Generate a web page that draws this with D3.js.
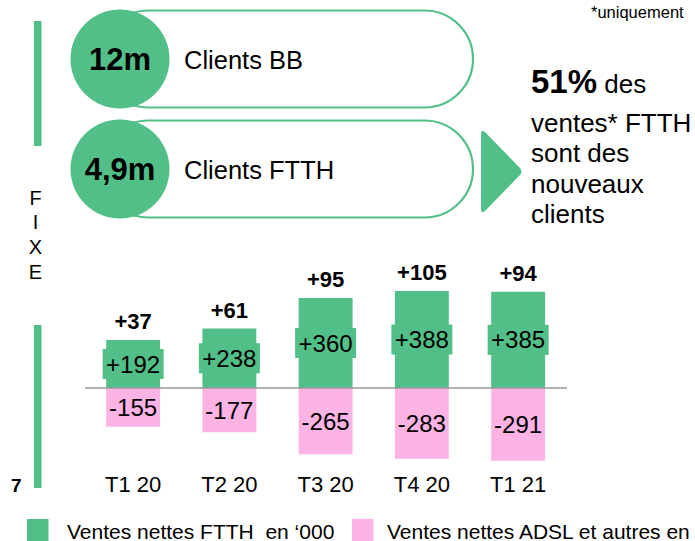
<!DOCTYPE html>
<html>
<head>
<meta charset="utf-8">
<script src="https://cdn.jsdelivr.net/npm/d3@7"></script>
<style>
  body { margin: 0; background: #fff; }
  svg { display: block; font-family: "Liberation Sans", Arial, Helvetica, sans-serif; }
  .legend text { white-space: pre; }
</style>
</head>
<body>
<svg id="chart"></svg>
<script>
const green = "#52BF88"
const pink = "#FDB3E3"

const categories = ["T1 20", "T2 20", "T3 20", "T4 20", "T1 21"]
const ftthSales = [192, 238, 360, 388, 385]
const adslSales = [-155, -177, -265, -283, -291]
const netSales = [37, 61, 95, 105, 94]

const kpiValues = ["12m", "4,9m"]
const kpiLabels = ["Clients BB", "Clients FTTH"]
const sideLetters = ["F", "I", "X", "E"]
const calloutLines = ["ventes* FTTH", "sont des", "nouveaux", "clients"]
const legendLabels = ["Ventes nettes FTTH  en \u2018000", "Ventes nettes ADSL et autres en"]

const width = 695
const height = 541

const svg = d3.select("#chart").attr("width", width).attr("height", height)

// top KPI pills
const pill = svg.selectAll(".kpi").data(kpiValues).enter().append("g")
  .attr("transform", (d, i) => "translate(0," + (i * 110) + ")")

pill.append("rect")
  .attr("x", 100).attr("y", 10.5)
  .attr("width", 373).attr("height", 97)
  .attr("rx", 48.5)
  .attr("fill", "#fff")
  .attr("stroke", green)
  .attr("stroke-width", 2.2)

pill.append("circle")
  .attr("cx", 120).attr("cy", 59)
  .attr("r", 49.5)
  .attr("fill", green)

pill.append("text")
  .attr("x", 120).attr("y", 70)
  .attr("text-anchor", "middle")
  .attr("font-size", 31).attr("font-weight", "bold")
  .attr("fill", "#000")
  .text(d => d)

pill.append("text")
  .attr("x", 184).attr("y", 68.5)
  .attr("font-size", 25.5)
  .attr("fill", "#000")
  .text((d, i) => kpiLabels[i])

// arrow
svg.append("path")
  .attr("d", "M481,134 Q481,129 485,132 L520,168 Q523,171.5 520,175 L485,211 Q481,214 481,209 Z")
  .attr("fill", green)

// callout text
const callout = svg.append("text").attr("x", 531).attr("y", 93).attr("fill", "#000")
callout.append("tspan").attr("font-size", 33).attr("font-weight", "bold").text("51%")
callout.append("tspan").attr("font-size", 26).text(" des")

svg.selectAll(".callout").data(calloutLines).enter().append("text")
  .attr("x", 531)
  .attr("y", (d, i) => 132 + i * 30.3)
  .attr("font-size", 26)
  .attr("fill", "#000")
  .text(d => d)

svg.append("text")
  .attr("x", 591).attr("y", 18)
  .attr("font-size", 16.5)
  .attr("fill", "#000")
  .text("*uniquement")

// left side rule and letters
svg.append("rect").attr("x", 34).attr("y", 21).attr("width", 7.5).attr("height", 125).attr("fill", green)
svg.append("rect").attr("x", 34).attr("y", 325).attr("width", 7.5).attr("height", 163).attr("fill", green)

svg.selectAll(".side").data(sideLetters).enter().append("text")
  .attr("x", 35.5)
  .attr("y", (d, i) => 204.5 + i * 24.7)
  .attr("text-anchor", "middle")
  .attr("font-size", 20)
  .attr("fill", "#000")
  .text(d => d)

svg.append("text")
  .attr("x", 11).attr("y", 492)
  .attr("font-size", 19).attr("font-weight", "bold")
  .attr("fill", "#000")
  .text("7")

// bar chart
const xScale = d3.scaleBand()
  .domain(categories)
  .range([85, 566.25])
  .paddingInner(0.44)
  .paddingOuter(0.22)

const yScale = d3.scaleLinear()
  .domain([-300, 400])
  .range([463, 288])

const bw = xScale.bandwidth()

svg.selectAll(".ftth").data(ftthSales).enter().append("rect")
  .attr("x", (d, i) => xScale(categories[i]))
  .attr("y", d => yScale(d))
  .attr("width", bw)
  .attr("height", d => yScale(0) - yScale(d))
  .attr("fill", green)

svg.selectAll(".adsl").data(adslSales).enter().append("rect")
  .attr("x", (d, i) => xScale(categories[i]))
  .attr("y", yScale(0))
  .attr("width", bw)
  .attr("height", d => yScale(d) - yScale(0))
  .attr("fill", pink)

svg.append("line")
  .attr("x1", 85).attr("x2", 567)
  .attr("y1", yScale(0)).attr("y2", yScale(0))
  .attr("stroke", "#999")
  .attr("stroke-width", 1.5)

// green value labels with their own box
const ftthLabels = svg.selectAll(".ftthLabel").data(ftthSales).enter().append("g")
ftthLabels.append("rect")
  .attr("x", (d, i) => xScale(categories[i]) + bw / 2 - 30.5)
  .attr("y", d => (yScale(d) + yScale(0)) / 2 - 15)
  .attr("width", 61).attr("height", 30)
  .attr("fill", green)
ftthLabels.append("text")
  .attr("x", (d, i) => xScale(categories[i]) + bw / 2)
  .attr("y", d => (yScale(d) + yScale(0)) / 2 + 8.5)
  .attr("text-anchor", "middle")
  .attr("font-size", 24)
  .attr("fill", "#000")
  .text(d => "+" + d)

svg.selectAll(".adslLabel").data(adslSales).enter().append("text")
  .attr("x", (d, i) => xScale(categories[i]) + bw / 2)
  .attr("y", d => (yScale(d) + yScale(0)) / 2 + 9)
  .attr("text-anchor", "middle")
  .attr("font-size", 24)
  .attr("fill", "#000")
  .text(d => d)

svg.selectAll(".netLabel").data(netSales).enter().append("text")
  .attr("x", (d, i) => xScale(categories[i]) + bw / 2)
  .attr("y", (d, i) => yScale(ftthSales[i]) - 11)
  .attr("text-anchor", "middle")
  .attr("font-size", 22).attr("font-weight", "bold")
  .attr("fill", "#000")
  .text(d => "+" + d)

const xAxis = d3.axisBottom(xScale).tickSize(0).tickPadding(0)
svg.append("g")
  .attr("transform", "translate(0,476)")
  .call(xAxis)
  .call(g => g.select(".domain").remove())
  .selectAll("text")
  .attr("font-size", 22)
  .attr("font-family", "Liberation Sans, Arial, sans-serif")
  .attr("fill", "#000")

// legend
const legend = svg.selectAll(".legend").data(legendLabels).enter().append("g")
  .attr("class", "legend")
  .attr("transform", (d, i) => "translate(" + (i === 0 ? 27 : 352) + ",519)")
legend.append("rect")
  .attr("width", 21.5).attr("height", 24)
  .attr("fill", (d, i) => i === 0 ? green : pink)
legend.append("text")
  .attr("x", (d, i) => i === 0 ? 40 : 35)
  .attr("y", 19.5)
  .attr("font-size", 21)
  .attr("fill", "#000")
  .text(d => d)
</script>
</body>
</html>
